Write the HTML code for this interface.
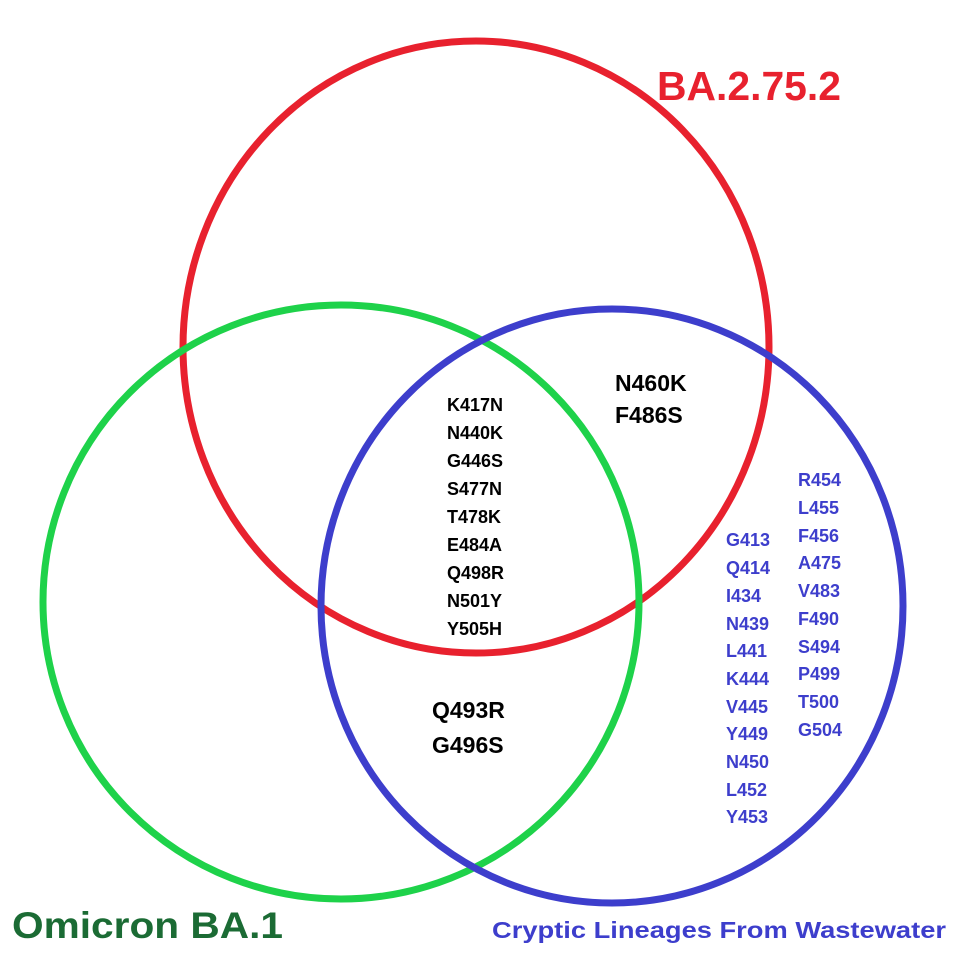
<!DOCTYPE html>
<html><head><meta charset="utf-8"><style>
html,body{margin:0;padding:0;background:#fff;}
svg{display:block}
text{font-family:"Liberation Sans",sans-serif;font-weight:bold;}
</style></head><body>
<svg width="960" height="960" viewBox="0 0 960 960" xmlns="http://www.w3.org/2000/svg">
<rect width="960" height="960" fill="#fff"/>
<ellipse cx="476" cy="347" rx="293" ry="306" fill="none" stroke="#e8212e" stroke-width="7"/>
<ellipse cx="341" cy="602" rx="298" ry="297" fill="none" stroke="#1ed24a" stroke-width="7"/>
<ellipse cx="612" cy="606" rx="291" ry="297" fill="none" stroke="#3d3ecc" stroke-width="7"/>

<text x="657" y="100" font-size="41" fill="#e8212e" textLength="184" lengthAdjust="spacingAndGlyphs">BA.2.75.2</text>
<text x="12" y="938" font-size="37" fill="#1b6b34" textLength="271" lengthAdjust="spacingAndGlyphs">Omicron BA.1</text>
<text x="492" y="938" font-size="23" fill="#3d3ecc" textLength="454" lengthAdjust="spacingAndGlyphs">Cryptic Lineages From Wastewater</text>

<g font-size="18" fill="#000">
<text x="447" y="411">K417N</text>
<text x="447" y="439">N440K</text>
<text x="447" y="467">G446S</text>
<text x="447" y="495">S477N</text>
<text x="447" y="523">T478K</text>
<text x="447" y="551">E484A</text>
<text x="447" y="579">Q498R</text>
<text x="447" y="607">N501Y</text>
<text x="447" y="635">Y505H</text>
</g>
<g font-size="23" fill="#000">
<text x="615" y="391">N460K</text>
<text x="615" y="423">F486S</text>
<text x="432" y="718">Q493R</text>
<text x="432" y="753">G496S</text>
</g>
<g font-size="18" fill="#3d3ecc">
<text x="726" y="546">G413</text>
<text x="726" y="574">Q414</text>
<text x="726" y="602">I434</text>
<text x="726" y="630">N439</text>
<text x="726" y="657">L441</text>
<text x="726" y="685">K444</text>
<text x="726" y="713">V445</text>
<text x="726" y="740">Y449</text>
<text x="726" y="768">N450</text>
<text x="726" y="796">L452</text>
<text x="726" y="823">Y453</text>
<text x="798" y="486">R454</text>
<text x="798" y="514">L455</text>
<text x="798" y="542">F456</text>
<text x="798" y="569">A475</text>
<text x="798" y="597">V483</text>
<text x="798" y="625">F490</text>
<text x="798" y="653">S494</text>
<text x="798" y="680">P499</text>
<text x="798" y="708">T500</text>
<text x="798" y="736">G504</text>
</g>
</svg>
</body></html>
